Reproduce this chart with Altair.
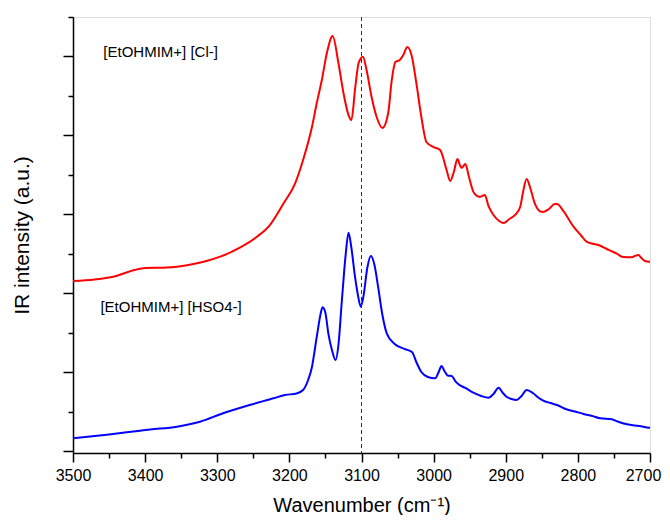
import altair as alt
import pandas as pd

# ---- data ----
red_wn = [3500, 3470, 3440, 3415, 3400, 3370, 3340, 3315, 3296, 3268, 3245, 3227, 3208, 3192,
          3181, 3169, 3162, 3155, 3148, 3140, 3132, 3125, 3118, 3114, 3108.6, 3104, 3098, 3093,
          3086, 3079, 3071, 3063, 3058, 3053, 3047, 3042, 3036.5, 3030, 3024, 3017, 3010, 3000,
          2991, 2982, 2977, 2972, 2967, 2963, 2961, 2956, 2951, 2944, 2936, 2929, 2924, 2917,
          2909, 2903, 2895, 2887, 2880, 2876, 2871, 2866, 2860, 2853, 2848, 2840, 2832, 2829,
          2820, 2806, 2795, 2788, 2778, 2769, 2760, 2755, 2745, 2739, 2726, 2721, 2716, 2712,
          2707, 2701, 2700]
red_val = [2.158, 2.177, 2.222, 2.297, 2.323, 2.329, 2.361, 2.411, 2.466, 2.585, 2.719, 2.867, 3.142, 3.395,
           3.690, 4.095, 4.411, 4.703, 5.044, 5.259, 4.918, 4.538, 4.259, 4.196, 4.614, 4.918, 4.997, 4.829,
           4.487, 4.234, 4.095, 4.285, 4.703, 4.930, 4.956, 5.019, 5.120, 4.994, 4.665, 4.234, 3.918, 3.854,
           3.816, 3.563, 3.424, 3.538, 3.703, 3.614, 3.592, 3.639, 3.475, 3.272, 3.222, 3.247, 3.108, 2.994,
           2.918, 2.892, 2.943, 2.994, 3.095, 3.285, 3.449, 3.335, 3.146, 3.044, 3.032, 3.070, 3.133, 3.133,
           3.044, 2.846, 2.728, 2.656, 2.627, 2.605, 2.563, 2.542, 2.500, 2.466, 2.458, 2.475, 2.487, 2.449,
           2.411, 2.403, 2.403]

blue_wn = [3500, 3450, 3407, 3393, 3356, 3324, 3292, 3255, 3222, 3206, 3190, 3181, 3174, 3169,
           3162, 3157, 3154, 3150, 3146, 3141, 3136, 3132, 3127.5, 3122, 3118, 3114, 3109, 3105,
           3101, 3097, 3092, 3087, 3082, 3077, 3071, 3065, 3054, 3040, 3030, 3024, 3017, 3008,
           2998, 2993, 2989, 2985, 2980, 2975, 2970, 2966, 2956, 2945, 2934, 2924, 2917, 2910,
           2904, 2899, 2892, 2885, 2878, 2871, 2862, 2855, 2848, 2838, 2829, 2816, 2804, 2792,
           2780, 2769, 2753, 2745, 2732, 2715, 2701, 2700]
blue_val = [0.167, 0.215, 0.263, 0.278, 0.314, 0.377, 0.484, 0.589, 0.673, 0.715, 0.734, 0.778, 0.905, 1.057,
            1.453, 1.728, 1.825, 1.753, 1.496, 1.285, 1.158, 1.348, 1.876, 2.487, 2.770, 2.576, 2.213, 1.981,
            1.833, 1.981, 2.323, 2.475, 2.361, 2.086, 1.728, 1.496, 1.361, 1.297, 1.259, 1.133, 1.006, 0.943,
            0.927, 1.006, 1.082, 1.019, 0.959, 0.956, 0.892, 0.854, 0.804, 0.744, 0.703, 0.681, 0.728, 0.808,
            0.741, 0.694, 0.665, 0.652, 0.703, 0.778, 0.737, 0.684, 0.643, 0.614, 0.589, 0.534, 0.506, 0.475,
            0.449, 0.420, 0.408, 0.380, 0.344, 0.323, 0.301, 0.300]

series_names = ["[EtOHMIM+] [Cl-]", "[EtOHMIM+] [HSO4-]"]
series_colors = ["#FF0000", "#0000FF"]
label_wn = [3458, 3462]
label_val = [5.06, 1.83]
marker_wn = [3100]

x_major = [3500, 3400, 3300, 3200, 3100, 3000, 2900, 2800, 2700]
x_minor = [3450, 3350, 3250, 3150, 3050, 2950, 2850, 2750]
y_major = [0, 1, 2, 3, 4, 5]
y_minor = [0.5, 1.5, 2.5, 3.5, 4.5, 5.5]

# ---- tables ----
df = pd.concat([
    pd.DataFrame({"wn": red_wn, "val": red_val, "series": series_names[0]}),
    pd.DataFrame({"wn": blue_wn, "val": blue_val, "series": series_names[1]}),
])
labels_df = pd.DataFrame({"wn": label_wn, "val": label_val, "text": series_names})
marker_df = pd.DataFrame({"wn": marker_wn})

FONT = "Liberation Sans"

x_scale = alt.Scale(domain=[2700, 3500], reverse=True, nice=False, zero=False)
y_scale = alt.Scale(domain=[-0.019, 5.5], nice=False, zero=False)

common = dict(domainColor="black", domainWidth=1.5, tickColor="black", tickWidth=1.5, grid=False)

x_axis = alt.Axis(
    orient="bottom",
    title="Wavenumber (cm⁻¹)",
    values=x_major,
    format="d",
    tickSize=9,
    labelFontSize=16, labelFont=FONT, labelColor="black", labelPadding=5,
    labelOffset={"condition": {"test": "datum.value === 2700", "value": -7}, "value": 0},
    titleFontSize=20, titleFont=FONT, titleFontWeight="normal", titleColor="black", titlePadding=12,
    labelFlush=False, labelOverlap=False, labelBound=False,
    **common,
)
y_axis = alt.Axis(
    orient="left",
    title="IR intensity (a.u.)",
    values=y_major,
    labels=False,
    tickSize=10,
    titleFontSize=21, titleFont=FONT, titleFontWeight="normal", titleColor="black", titlePadding=30,
    **common,
)
x_axis_minor = alt.Axis(orient="bottom", title=None, values=x_minor, labels=False, tickSize=5,
                        domain=False, tickColor="black", tickWidth=1.5, grid=False)
y_axis_minor = alt.Axis(orient="left", title=None, values=y_minor, labels=False, tickSize=5,
                        domain=False, tickColor="black", tickWidth=1.5, grid=False)

lines = alt.Chart(df).mark_line(strokeWidth=2, interpolate="monotone").encode(
    x=alt.X("wn:Q", scale=x_scale, axis=x_axis),
    y=alt.Y("val:Q", scale=y_scale, axis=y_axis),
    color=alt.Color("series:N", scale=alt.Scale(domain=series_names, range=series_colors), legend=None),
    order=alt.Order("wn:Q", sort="descending"),
)

texts = alt.Chart(labels_df).mark_text(align="left", baseline="middle", font=FONT, fontSize=15, color="black").encode(
    x=alt.X("wn:Q", scale=x_scale, axis=x_axis_minor),
    y=alt.Y("val:Q", scale=y_scale, axis=y_axis_minor),
    text="text:N",
)

marker = alt.Chart(marker_df).mark_rule(color="#333333", strokeWidth=1, strokeDash=[4, 3]).encode(
    x=alt.X("wn:Q", scale=x_scale, axis=None)
)

chart = alt.layer(lines, texts, marker).resolve_axis(x="independent", y="independent").properties(
    width=577,
    height=436,
    padding={"left": 65, "top": 9, "right": 12, "bottom": 62},
    autosize=alt.AutoSizeParams(type="none"),
).configure_view(stroke=None).configure(background="white")

chart.save("out.html", embed_options={"renderer": "svg", "actions": False})
